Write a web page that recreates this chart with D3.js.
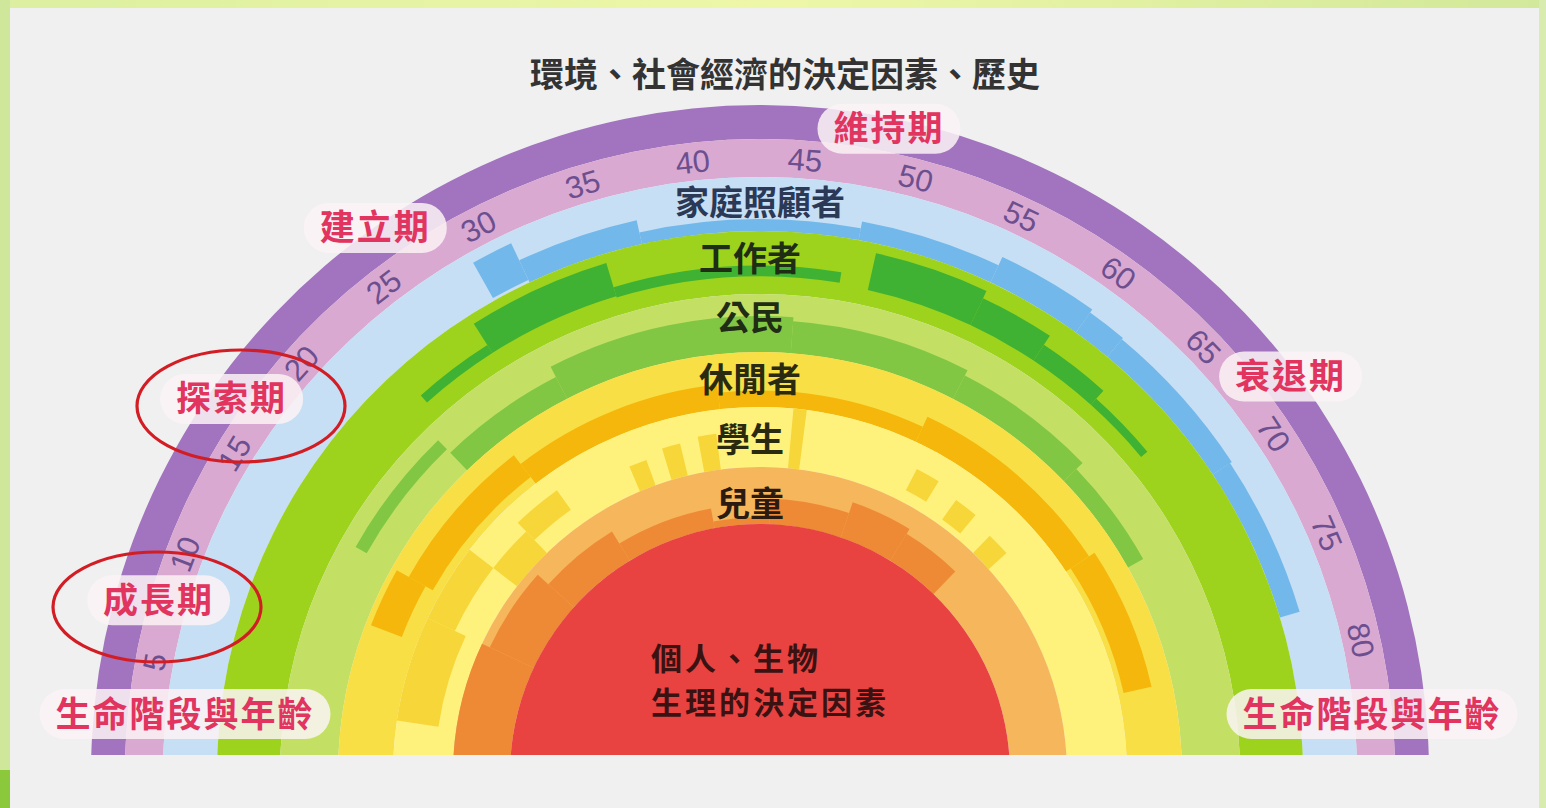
<!DOCTYPE html>
<html><head><meta charset="utf-8">
<script src="https://cdn.jsdelivr.net/npm/d3@7"></script>
<style>
body{margin:0;background:#f0f0f0;}
svg{display:block}
</style>
</head><body>
<svg id="c" width="1546" height="808"></svg>
<script>
// ---------------- DATA ----------------
const ageTicks = [5,10,15,20,25,30,35,40,45,50,55,60,65,70,75,80];
const roles = ['家庭照顧者','工作者','公民','休閒者','學生','兒童'];
// intensity segments: [startAge, endAge, innerFrac, outerFrac] within each role band
const homemakerSeg = [[29,31,0.05,0.8],[31,37,0,0.45],[37,48,0,0.22],[48,55,0,0.35],[55,60,0,0.52],[60,62,0,0.45],[62,70,0,0.42],[70,78,0,0.38]];
const workerSeg = [[23,27.5,0.3,0.45],[27.5,35,0.3,0.85],[35,47.4,0.28,0.45],[49,55,0.25,0.85],[55,59,0.25,0.72],[59,63,0.25,0.55],[63,67,0.25,0.38]];
const citizenSeg = [[14,22,0.5,0.72],[22,30,0,0.42],[30,45,0,0.62],[45,56,0,0.55],[56,65,0,0.45],[65,72,0,0.3]];
const leisureSeg = [[10,14,0.3,0.9],[14,25,0.15,0.65],[25,40,0,0.45],[40,55,0,0.3],[55,70,0,0.5],[70,80,0.1,0.62]];
const studentSeg = [[4,12,0.3,1.0],[12,18,0.5,1.0],[18,22,0,0.5],[22,26,0.3,0.7],[32,33.5,0,0.45],[35,36.5,0,0.55],[38,39.5,0,0.6],[45.5,46.5,0,1],[56,58,0.2,0.6],[60,62,0.1,0.5],[64,66,0,0.4]];
const childSeg = [[0,12,0,1.0],[12,20,0,0.85],[20,28,0,0.6],[28,38,0,0.35],[38,44,0,0.12],[44,52,0,0.45],[52,58,0,0.65],[58,64,0,0.55]];
const stages = ['成長期','探索期','建立期','維持期','衰退期'];
const stageAges = [7.7,16.9,26.2,48.4,68.4];
const title = '環境、社會經濟的決定因素、歷史';
const coreLines = ['個人、生物','生理的決定因素'];
const axisLabel = '生命階段與年齡';

// ---------------- LAYOUT ----------------
const W = 1546, H = 808, cx = 760, cy = 774;
const rOuter = 669, rPurpleIn = 635, rPinkIn = 597;
const bandEdges = [[543,597],[480,543],[422,480],[367,422],[307,367],[250,307]];
const bandBg = ['#c6dff4','#9dd31c','#c3e064','#f8df45','#fff27c','#f5b65c'];
const bandInt = ['#72b8ea','#3fb234','#82c744','#f5b70b','#f7d63a','#ee8a36'];
const segs = [homemakerSeg, workerSeg, citizenSeg, leisureSeg, studentSeg, childSeg];
const stageR = [626,648,668,658,663];
const roleOffset = [-1,-4,-5,0,3,8];

const svg = d3.select('#c');
// frame
svg.append('rect').attr('width',W).attr('height',H).attr('fill','#f0f0f0');
const defs = svg.append('defs');
const gTop = defs.append('linearGradient').attr('id','topg');
gTop.append('stop').attr('offset','0%').attr('stop-color','#dcefa0');
gTop.append('stop').attr('offset','50%').attr('stop-color','#eef7a8');
gTop.append('stop').attr('offset','100%').attr('stop-color','#d2e89a');
svg.append('rect').attr('x',0).attr('y',0).attr('width',W).attr('height',8).attr('fill','url(#topg)');
svg.append('rect').attr('x',0).attr('y',0).attr('width',10).attr('height',H).attr('fill','#cfe79a');
svg.append('rect').attr('x',0).attr('y',770).attr('width',10).attr('height',H-770).attr('fill','#8cc83c');
svg.append('rect').attr('x',W-7).attr('y',0).attr('width',7).attr('height',H).attr('fill','#d8ecb0');

defs.append('clipPath').attr('id','clip').append('rect').attr('x',0).attr('y',0).attr('width',W).attr('height',755);

const angle = d3.scaleLinear().domain([0,86]).range([-Math.PI/2, Math.PI/2]);
const outer = svg.append('g').attr('clip-path','url(#clip)');
const g = outer.append('g').attr('transform',`translate(${cx},${cy})`);
const arc = d3.arc();
const full = (ri, ro, fill) => g.append('path')
  .attr('d', arc({innerRadius:ri, outerRadius:ro, startAngle:-Math.PI/2-0.05, endAngle:Math.PI/2+0.05}))
  .attr('fill', fill);

full(rPurpleIn, rOuter, '#a273be');
full(rPinkIn, rPurpleIn, '#d9a9d2');
bandEdges.forEach((e,i) => {
  full(e[0], e[1], bandBg[i]);
  const rs = d3.scaleLinear().domain([0,1]).range(e);
  g.selectAll(null).data(segs[i]).enter().append('path')
    .attr('d', d => arc({innerRadius: rs(d[2]), outerRadius: rs(d[3]),
      startAngle: d[0]===0 ? -Math.PI/2-0.05 : angle(d[0]), endAngle: angle(d[1])}))
    .attr('fill', bandInt[i]);
});
full(0, 250, '#e84341');

// age tick labels
const rTick = (rPinkIn + rPurpleIn)/2;
svg.append('g').selectAll('text').data(ageTicks).enter().append('text')
  .attr('transform', d => {
    const a = angle(d);
    const x = cx + rTick*Math.sin(a), y = cy - rTick*Math.cos(a);
    return `translate(${x},${y}) rotate(${a*180/Math.PI})`;
  })
  .attr('text-anchor','middle').attr('dy','0.36em')
  .attr('font-family','Liberation Sans, Arial, sans-serif').attr('font-size',31)
  .attr('fill','#6c4f8e').text(d => d);

const cjk = '"Noto Sans CJK TC","Noto Sans CJK SC",sans-serif';
// role labels
const roleColors = ['#2b3957','#1f2d14','#1f2d14','#2a2a10','#2a2a10','#2a1a10'];
svg.append('g').selectAll('text').data(roles).enter().append('text')
  .attr('x', (d,i) => i===0 ? 760 : 750)
  .attr('y', (d,i) => cy - (bandEdges[i][0]+bandEdges[i][1])/2 + roleOffset[i])
  .attr('dy','0.36em').attr('text-anchor','middle')
  .attr('font-family',cjk).attr('font-weight',700).attr('font-size',34)
  .attr('fill',(d,i)=>roleColors[i]).text(d=>d);

// title
svg.append('text').attr('x',785).attr('y',75).attr('dy','0.36em').attr('text-anchor','middle')
  .attr('font-family',cjk).attr('font-weight',700).attr('font-size',34).attr('fill','#333')
  .text(title);

// core text
svg.append('g').selectAll('text').data(coreLines).enter().append('text')
  .attr('x',651).attr('y',(d,i)=>659+i*44).attr('dy','0.36em')
  .attr('font-family',cjk).attr('font-weight',700).attr('font-size',31)
  .attr('letter-spacing',3).attr('fill','#3a1212')
  .text(d=>d);

// stage labels with pill backgrounds
function pill(x, y, text, size) {
  const gg = svg.append('g');
  const t = gg.append('text').attr('x',x).attr('y',y).attr('dy','0.36em').attr('text-anchor','middle')
    .attr('font-family',cjk).attr('font-weight',700).attr('font-size',size)
    .attr('letter-spacing',2).attr('fill','#e1345f').text(text);
  const bb = t.node().getBBox();
  gg.insert('rect','text').attr('x',bb.x-16).attr('y',y-25).attr('width',bb.width+32).attr('height',50)
    .attr('rx',25).attr('fill','#fbf3f6').attr('opacity',0.85);
}
stages.forEach((s,i) => {
  const a = angle(stageAges[i]);
  pill(cx + stageR[i]*Math.sin(a), cy - stageR[i]*Math.cos(a), s, 35);
});
pill(185, 714, axisLabel, 35);
pill(1372, 714, axisLabel, 35);

// red ellipses
[[241,406,104,56],[157,607,104,55]].forEach(e => {
  svg.append('ellipse').attr('cx',e[0]).attr('cy',e[1]).attr('rx',e[2]).attr('ry',e[3])
    .attr('fill','none').attr('stroke','#d21d25').attr('stroke-width',3.2);
});
</script>
</body></html>
